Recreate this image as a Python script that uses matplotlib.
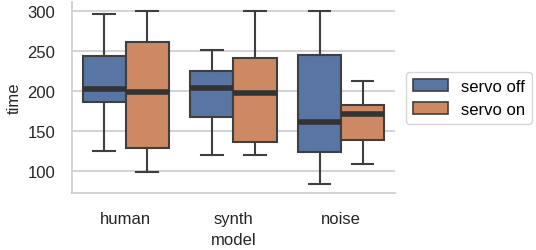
import matplotlib
matplotlib.use("Agg")
import matplotlib.pyplot as plt
from matplotlib.patches import Patch

categories = ["human", "synth", "noise"]
hues = ["servo off", "servo on"]
# box stats per category for each hue: whislo, q1, med, q3, whishi
off_whislo = [125, 120, 84]
off_q1 = [186, 167, 123]
off_med = [202, 203, 161]
off_q3 = [243, 225, 245]
off_whishi = [296, 251, 300]

on_whislo = [99, 120, 109]
on_q1 = [129, 136, 138]
on_med = [199, 197, 171]
on_q3 = [261, 241, 182]
on_whishi = [300, 300, 212]

colors = ["#5875a4", "#cc8963"]
edge = "#3f3f3f"

plt.rcParams['font.family'] = ['Liberation Sans', 'DejaVu Sans']
fs = 12
fig = plt.figure(figsize=(5.36, 2.51), dpi=100)
ax = fig.add_axes([0.134, 0.227, 0.603, 0.761])

series = [
    (off_whislo, off_q1, off_med, off_q3, off_whishi),
    (on_whislo, on_q1, on_med, on_q3, on_whishi),
]
for h, (wl, q1, md, q3, wh) in enumerate(series):
    stats = []
    for i in range(len(categories)):
        stats.append(dict(whislo=wl[i], q1=q1[i], med=md[i], q3=q3[i], whishi=wh[i], fliers=[]))
    pos = [i + (h - 0.5) * 0.4 for i in range(len(categories))]
    ax.bxp(stats, positions=pos, widths=0.4, patch_artist=True, showfliers=False,
           boxprops=dict(facecolor=colors[h], edgecolor=edge, linewidth=1.5),
           medianprops=dict(color="#333333", linewidth=4, solid_capstyle='butt'),
           whiskerprops=dict(color=edge, linewidth=1.5),
           capprops=dict(color=edge, linewidth=1.5),
           capwidths=0.2, zorder=3)

ax.set_xlim(-0.5, 2.5)
ax.set_ylim(72.2, 310.9)
ax.set_xticks(range(len(categories)))
ax.set_xticklabels(categories)
ax.set_yticks([100, 150, 200, 250, 300])
ax.tick_params(axis='both', length=0, labelsize=fs, colors='#262626')
ax.tick_params(axis='y', pad=12)
ax.tick_params(axis='x', pad=13)
ax.grid(axis='y', color='#cccccc', linewidth=1.2, zorder=0)
ax.set_axisbelow(True)
for s in ['top', 'right']:
    ax.spines[s].set_visible(False)
for s in ['left', 'bottom']:
    ax.spines[s].set_color('#cccccc')
    ax.spines[s].set_linewidth(1.2)
ax.set_xlabel("model", fontsize=fs, color='#262626', labelpad=4)
ax.set_ylabel("time", fontsize=fs, color='#262626', labelpad=4)

handles = [Patch(facecolor=colors[i], edgecolor=edge, linewidth=1.2, label=hues[i]) for i in range(2)]
leg = ax.legend(handles=handles, loc='center left', bbox_to_anchor=(1.034, 0.497), fontsize=fs,
                frameon=True, edgecolor='#cccccc', fancybox=True, handlelength=2.1, handleheight=0.72,
                borderpad=0.4, labelspacing=0.48, handletextpad=0.8, borderaxespad=0)
fig.savefig("out.png", dpi=100)
